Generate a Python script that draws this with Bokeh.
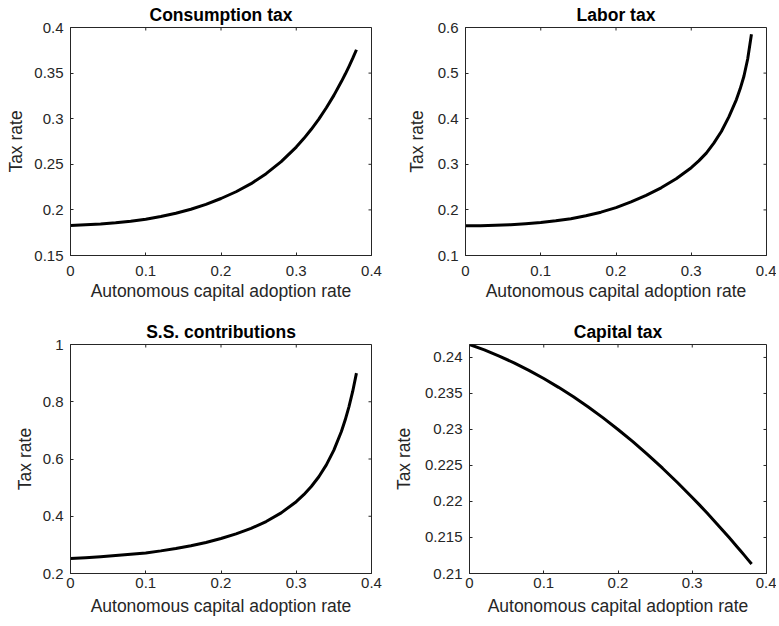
import math
from bokeh.plotting import figure
from bokeh.layouts import column, row
from bokeh.models import Range1d, FixedTicker, Title, CustomJSTickFormatter
from bokeh.embed import file_html
from bokeh.resources import INLINE

# ---- data ----
adoption = [0.00, 0.02, 0.04, 0.06, 0.08, 0.10, 0.12, 0.14, 0.16, 0.18, 0.20,
            0.22, 0.24, 0.26, 0.28, 0.30, 0.31, 0.32, 0.33, 0.34, 0.35, 0.36,
            0.365, 0.37, 0.375, 0.38]

consumption_tax = [0.1830, 0.1836, 0.1845, 0.1858, 0.1876, 0.1898, 0.1927, 0.1963,
                   0.2007, 0.2060, 0.2125, 0.2199, 0.2288, 0.2397, 0.2529, 0.2689,
                   0.2782, 0.2884, 0.2996, 0.3120, 0.3256, 0.3407, 0.3487, 0.3572,
                   0.3661, 0.3756]

labor_tax = [0.1650, 0.1653, 0.1661, 0.1675, 0.1696, 0.1724, 0.1760, 0.1808,
             0.1870, 0.1950, 0.2050, 0.2175, 0.2320, 0.2485, 0.2685, 0.2925,
             0.3075, 0.3245, 0.3465, 0.3720, 0.4040, 0.4420, 0.4655, 0.4930,
             0.5310, 0.5850]

ss_contributions = [0.2520, 0.2550, 0.2585, 0.2625, 0.2670, 0.2720, 0.2790, 0.2872,
                    0.2969, 0.3085, 0.3221, 0.3382, 0.3576, 0.3816, 0.4117, 0.4509,
                    0.4752, 0.5039, 0.5380, 0.5795, 0.6309, 0.6962, 0.7360, 0.7821,
                    0.8360, 0.9000]

capital_tax = [0.24180, 0.24105, 0.24020, 0.23925, 0.23821, 0.23708, 0.23585, 0.23453,
               0.23312, 0.23161, 0.23000, 0.22830, 0.22651, 0.22462, 0.22264, 0.22056,
               0.21949, 0.21839, 0.21727, 0.21612, 0.21496, 0.21376, 0.21316, 0.21255,
               0.21193, 0.21131]

x_ticks = [0, 0.1, 0.2, 0.3, 0.4]
consumption_ticks = [0.15, 0.2, 0.25, 0.3, 0.35, 0.4]
labor_ticks = [0.1, 0.2, 0.3, 0.4, 0.5, 0.6]
ss_ticks = [0.2, 0.4, 0.6, 0.8, 1.0]
capital_ticks = [0.21, 0.215, 0.22, 0.225, 0.23, 0.235, 0.24]

titles = ["Consumption tax", "Labor tax", "S.S. contributions", "Capital tax"]
x_label = "Autonomous capital adoption rate"
y_label = "Tax rate"

AX = "#262626"
FONT = "Liberation Sans"

fmt_code = "return String(Math.round(tick*10000)/10000);"


def panel(yvals, yticks, ylo, yhi, title, w, h, bl, br, bt, bb,
          ylab_standoff, xlab_standoff, xtick_standoff, title_standoff):
    p = figure(width=w, height=h, x_range=Range1d(0, 0.4), y_range=Range1d(ylo, yhi),
               output_backend="svg", toolbar_location=None,
               min_border_left=bl, min_border_right=br,
               min_border_top=bt, min_border_bottom=bb)
    p.background_fill_color = "white"
    p.border_fill_color = "white"
    p.outline_line_color = AX
    p.outline_line_width = 1
    p.xgrid.visible = False
    p.ygrid.visible = False

    p.line(adoption, yvals, line_width=3, line_color="black", line_join="round")

    for ax, ticks, stand in ((p.xaxis[0], x_ticks, xtick_standoff), (p.yaxis[0], yticks, 7)):
        ax.ticker = FixedTicker(ticks=ticks)
        ax.formatter = CustomJSTickFormatter(code=fmt_code)
        ax.major_tick_in = 3
        ax.major_tick_out = 0
        ax.minor_tick_line_color = None
        ax.axis_line_color = AX
        ax.major_tick_line_color = AX
        ax.major_label_text_color = AX
        ax.major_label_text_font = FONT
        ax.major_label_text_font_size = "15px"
        ax.major_label_standoff = stand
        ax.axis_label_text_font = FONT
        ax.axis_label_text_font_size = "17.5px"
        ax.axis_label_text_font_style = "normal"
        ax.axis_label_text_color = AX

    p.xaxis[0].axis_label = x_label
    p.xaxis[0].axis_label_standoff = xlab_standoff
    p.yaxis[0].axis_label = y_label
    p.yaxis[0].axis_label_standoff = ylab_standoff

    # inward ticks mirrored on the right and top edges of the box
    p.ray(x=[0.4] * len(yticks), y=yticks, length=3, length_units="screen",
          angle=math.pi, line_color=AX, line_width=1)
    p.ray(x=x_ticks, y=[yhi] * len(x_ticks), length=3, length_units="screen",
          angle=-math.pi / 2, line_color=AX, line_width=1)

    t = Title(text=title, align="center", text_font=FONT, text_font_style="bold",
              text_font_size="17.5px", text_color="black", standoff=title_standoff)
    p.add_layout(t, "above")
    return p


f1 = panel(consumption_tax, consumption_ticks, 0.15, 0.4, titles[0],
           390, 313, 70, 19, 25, 58, 5, 2, 10, 5)
f2 = panel(labor_tax, labor_ticks, 0.1, 0.6, titles[1],
           386, 313, 75, 10, 25, 58, 8, 2, 10, 5)
f3 = panel(ss_contributions, ss_ticks, 0.2, 1.0, titles[2],
           390, 308, 70, 19, 31, 48, 5, 5, 4, 6)
f4 = panel(capital_tax, capital_ticks, 0.21, 0.2418, titles[3],
           386, 308, 75, 10, 31, 48, 8, 5, 4, 6)

layout = column(row(f1, f2), row(f3, f4))

open("out.html", "w").write(file_html(layout, INLINE))
